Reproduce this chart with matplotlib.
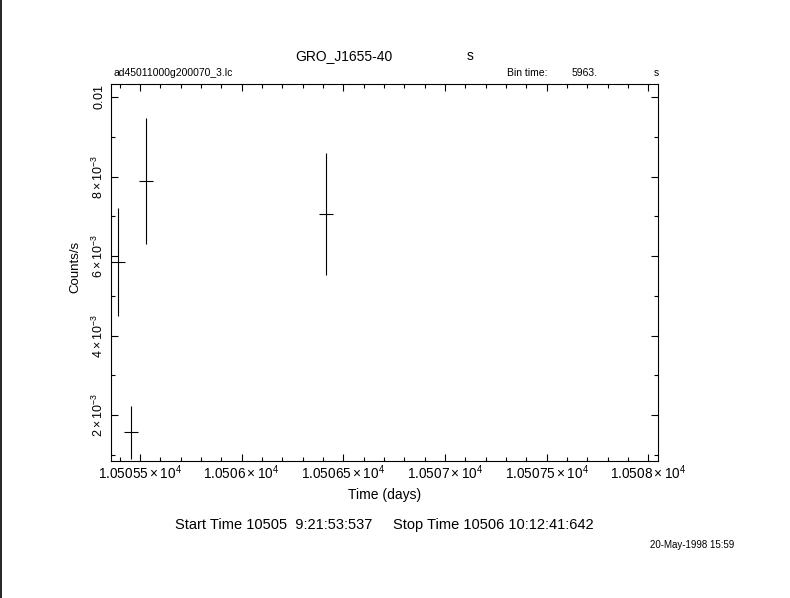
import numpy as np
import matplotlib
matplotlib.use('Agg')
import matplotlib.pyplot as plt
from matplotlib.ticker import MultipleLocator
from matplotlib.lines import Line2D

plt.rcParams['font.family'] = ['Liberation Sans', 'DejaVu Sans']
plt.rcParams['mathtext.fontset'] = 'custom'
plt.rcParams['mathtext.rm'] = 'Liberation Sans'
plt.rcParams['mathtext.it'] = 'Liberation Sans'

# light curve bins (days, counts/s)
time = [10505.390, 10505.456, 10505.530, 10506.416]
rate = [5.86e-3, 1.56e-3, 7.89e-3, 7.06e-3]
rate_err = [1.36e-3, 0.67e-3, 1.58e-3, 1.54e-3]
half_bin = 5963.0 / 86400.0 / 2

x_ticks = [10505.5, 10506.0, 10506.5, 10507.0, 10507.5, 10508.0]
x_tick_labels = [r'$1.05055\times10^{4}$', r'$1.0506\times10^{4}$', r'$1.05065\times10^{4}$',
                 r'$1.0507\times10^{4}$', r'$1.05075\times10^{4}$', r'$1.0508\times10^{4}$']
y_ticks = [0.002, 0.004, 0.006, 0.008, 0.01]
y_tick_labels = [r'$2\times10^{-3}$', r'$4\times10^{-3}$', r'$6\times10^{-3}$',
                 r'$8\times10^{-3}$', r'$0.01$']

fig = plt.figure(figsize=(7.9, 5.98), dpi=100)
ax = fig.add_axes([0.1409, 0.2291, 0.6916, 0.6304])

ax.errorbar(time, rate, yerr=rate_err, xerr=half_bin, fmt='none',
            ecolor='black', elinewidth=0.8, capsize=0)

ax.set_xlim(10505.359, 10508.046)
ax.set_ylim(0.000841, 0.010335)

ax.set_xticks(x_ticks)
ax.set_xticklabels(x_tick_labels)
ax.set_yticks(y_ticks)
ax.set_yticklabels(y_tick_labels, rotation=90, va='center')
ax.xaxis.set_minor_locator(MultipleLocator(0.1))
ax.yaxis.set_minor_locator(MultipleLocator(0.001))
ax.tick_params(which='both', direction='in', top=True, right=True, width=0.8)
ax.tick_params(axis='x', labelsize=9.8, pad=2)
ax.tick_params(axis='y', labelsize=9)
ax.tick_params(which='major', length=5)
ax.tick_params(which='minor', length=3)
for s in ax.spines.values():
    s.set_linewidth(0.8)

ax.set_xlabel('Time (days)', fontsize=10, labelpad=4)
ax.set_ylabel('Counts/s', fontsize=9.5)
ax.yaxis.set_label_coords(-0.055, 0.515)

# header / footer text
fig.text(344 / 790, 1 - 56 / 598, 'GRO_J1655-40', ha='center', va='center', fontsize=10)
fig.text(470 / 790, 1 - 56 / 598, 's', ha='center', va='center', fontsize=10)
fig.text(113 / 790, 1 - 73 / 598, 'ad45011000g200070_3.lc', ha='left', va='center', fontsize=7.5)
fig.text(507 / 790, 1 - 73 / 598, 'Bin time:', ha='left', va='center', fontsize=7.5)
fig.text(572 / 790, 1 - 73 / 598, '5963.', ha='left', va='center', fontsize=7.5)
fig.text(656 / 790, 1 - 73 / 598, 's', ha='center', va='center', fontsize=7.5)
fig.text(384 / 790, 1 - 525 / 598,
         'Start Time 10505  9:21:53:537     Stop Time 10506 10:12:41:642',
         ha='center', va='center', fontsize=10.5)
fig.text(692 / 790, 1 - 545 / 598, '20-May-1998 15:59', ha='center', va='center', fontsize=7)

fig.add_artist(Line2D([0.001, 0.001], [0, 1], color='black', linewidth=1.2))

fig.savefig('out.png', dpi=100, facecolor='white')
